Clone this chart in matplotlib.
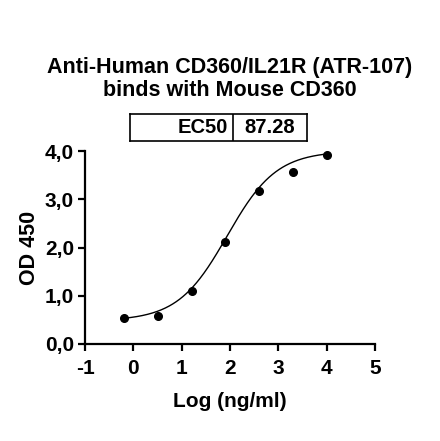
import numpy as np
import matplotlib
matplotlib.use("Agg")
import matplotlib.pyplot as plt
from matplotlib.ticker import FuncFormatter

plt.rcParams['font.family'] = ['Liberation Sans', 'DejaVu Sans']
plt.rcParams['font.weight'] = 'bold'
plt.rcParams['axes.unicode_minus'] = False

# data
log_conc = [-0.194, 0.505, 1.204, 1.903, 2.602, 3.301, 4.0]
od450 = [0.53, 0.57, 1.09, 2.11, 3.17, 3.57, 3.91]

# 4PL fit parameters
ec50 = 87.28
bottom = 0.48
top = 4.0
hill = 0.85

xfit = np.linspace(min(log_conc), max(log_conc), 300)
yfit = bottom + (top - bottom) / (1 + 10 ** ((np.log10(ec50) - xfit) * hill))

fig = plt.figure(figsize=(4.40, 4.41), dpi=100)
W, H = 440, 441
ax = fig.add_axes([85 / W, 1 - 344 / H, 290 / W, 193 / H])

ax.plot(xfit, yfit, color='black', lw=1.0)
ax.plot(log_conc, od450, 'o', color='black', ms=5.5)

ax.set_xlim(-1, 5)
ax.set_ylim(0, 4)
ax.set_xticks(range(-1, 6))
ax.set_yticks(range(0, 5))
ax.yaxis.set_major_formatter(FuncFormatter(lambda v, p: f"{v:.1f}".replace('.', ',')))
for s in ['top', 'right']:
    ax.spines[s].set_visible(False)
for s in ['left', 'bottom']:
    ax.spines[s].set_linewidth(1.6)
ax.tick_params(width=1.6, length=5, labelsize=15, pad=3)
ax.tick_params(axis='x', pad=6)
for lab in ax.get_xticklabels() + ax.get_yticklabels():
    lab.set_fontweight('bold')

ax.set_xlabel("Log (ng/ml)", fontsize=15, fontweight='bold', labelpad=10)
ax.set_ylabel("OD 450", fontsize=15.5, fontweight='bold', labelpad=3)

fig.text(230 / W, 1 - 79 / H, "Anti-Human CD360/IL21R (ATR-107)\nbinds with Mouse CD360",
         ha='center', va='center', fontsize=15.5, fontweight='bold', linespacing=1.12)

# EC50 table
tab = fig.add_axes([130 / W, 1 - 141 / H, 177 / W, 27 / H])
tab.set_xlim(0, 177)
tab.set_ylim(0, 27)
tab.set_xticks([])
tab.set_yticks([])
for s in tab.spines.values():
    s.set_linewidth(1.2)
tab.axvline(103, color='black', lw=1.2)
tab.text(98, 13.5, "EC50", ha='right', va='center', fontsize=14.5, fontweight='bold')
tab.text(140, 13.5, f"{ec50:.2f}", ha='center', va='center', fontsize=14.5, fontweight='bold')

fig.savefig("out.png", dpi=100)
